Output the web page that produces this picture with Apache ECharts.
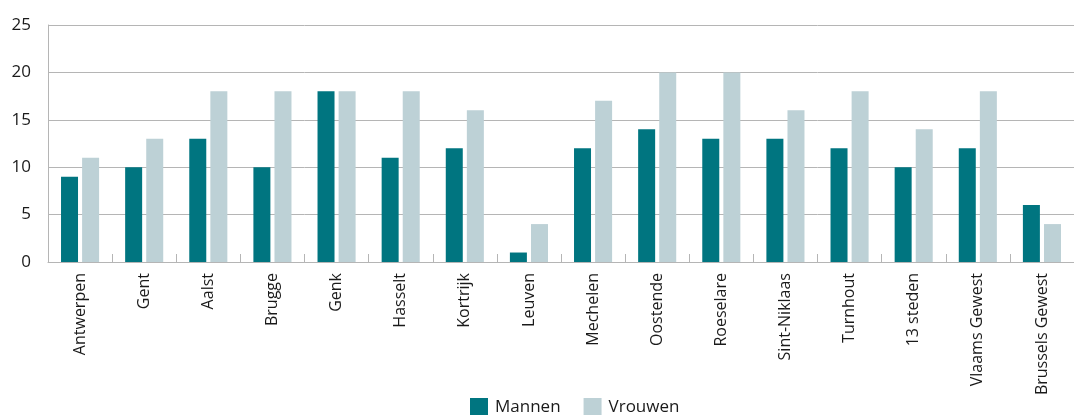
<!DOCTYPE html>
<html>
<head>
<meta charset="utf-8">
<script src="https://cdn.jsdelivr.net/npm/echarts@6/dist/echarts.min.js"></script>
<style>
  html, body { margin: 0; padding: 0; background: #fff; }
  #chart-wrapper { width: 1074px; height: 415px; }
</style>
</head>
<body>
<div id="chart-wrapper"></div>
<script>
const categories = ["Antwerpen", "Gent", "Aalst", "Brugge", "Genk", "Hasselt", "Kortrijk", "Leuven",
  "Mechelen", "Oostende", "Roeselare", "Sint-Niklaas", "Turnhout", "13 steden", "Vlaams Gewest", "Brussels Gewest"];
const mannen = [9, 10, 13, 10, 18, 11, 12, 1, 12, 14, 13, 13, 12, 10, 12, 6];
const vrouwen = [11, 13, 18, 18, 18, 18, 16, 4, 17, 20, 20, 16, 18, 14, 18, 4];

const FONT = "Open Sans";
const TEXT = "#1a1a1a";
const LINE = "#b5b5b5";

const chartDom = document.getElementById("chart-wrapper");
const chart = echarts.init(chartDom);

const option = {
  animation: false,
  textStyle: { fontFamily: FONT },
  grid: { left: 48, right: -8, top: 25, bottom: 153 },
  legend: {
    left: 465,
    top: 393,
    itemWidth: 18,
    itemHeight: 18,
    itemGap: 23,
    icon: "rect",
    textStyle: { fontFamily: FONT, fontSize: 17, color: TEXT, padding: [0, 0, 0, 2] },
    data: ["Mannen", "Vrouwen"]
  },
  xAxis: {
    type: "category",
    data: categories,
    axisLine: { lineStyle: { color: LINE, width: 1 } },
    axisTick: { show: true, inside: true, length: 8, lineStyle: { color: LINE } },
    axisLabel: {
      rotate: 90,
      margin: 11,
      fontSize: 16,
      color: TEXT,
      fontFamily: FONT,
      interval: 0
    }
  },
  yAxis: {
    type: "value",
    min: 0,
    max: 25,
    interval: 5,
    axisLine: { show: true, lineStyle: { color: LINE, width: 1 } },
    axisTick: { show: false },
    splitLine: { lineStyle: { color: LINE, width: 1 } },
    axisLabel: { margin: 17, fontSize: 17, color: TEXT, fontFamily: FONT, padding: [0, 0, 7, 0] }
  },
  series: [
    {
      name: "Mannen",
      type: "bar",
      data: mannen,
      barWidth: 17,
      barGap: "24%",
      itemStyle: { color: "#007580" }
    },
    {
      name: "Vrouwen",
      type: "bar",
      data: vrouwen,
      barWidth: 17,
      barGap: "24%",
      itemStyle: { color: "#bdd1d6" }
    }
  ]
};

chart.setOption(option);
</script>
</body>
</html>
